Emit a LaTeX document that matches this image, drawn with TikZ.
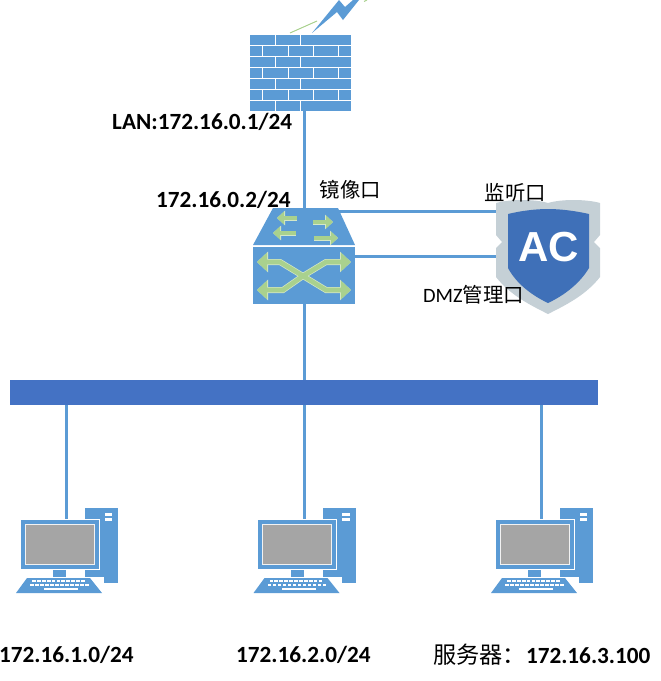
\documentclass[tikz,border=0pt]{standalone}
\usepackage{fontspec}
\setmainfont{Carlito}
\newfontfamily\cjk{Noto Sans CJK SC}
\newfontfamily\acfont{Liberation Sans}
\usetikzlibrary{arrows.meta}
\definecolor{netblue}{HTML}{5B9BD5}
\definecolor{busblue}{HTML}{4472C4}
\definecolor{arrgreen}{HTML}{A9D18E}
\definecolor{shieldgray}{HTML}{C5D0D6}
\definecolor{shieldblue}{HTML}{3F70B8}
\definecolor{screengray}{HTML}{A5A5A5}
\tikzset{
  link/.style={netblue,line width=3pt},
  addr/.style={anchor=west,inner sep=0pt,font=\fontsize{23.2}{26}\selectfont\bfseries},
  zhlab/.style={anchor=west,inner sep=0pt,font=\fontsize{20.4}{24}\selectfont},
  hole/.style={inner sep=0pt,outer sep=0pt,anchor=north west},
  halo/.style={white!50!arrgreen,line width=6pt,-{Triangle[length=11pt,width=20pt]}},
  swarrow/.style={arrgreen,line width=4.6pt,-{Triangle[length=10pt,width=18pt]}},
  smallhalo/.style={white!50!arrgreen,line width=5pt,-{Triangle[length=8pt,width=14pt]}},
  smallarrow/.style={arrgreen,line width=4pt,-{Triangle[length=7pt,width=12.5pt]}},
}
\begin{document}
\begin{tikzpicture}[x=1pt,y=-1pt]
\useasboundingbox (0,0) rectangle (661,681);
% firewall
\node[hole,minimum width=101pt,minimum height=77pt] (wall) at (250,34) {};
\foreach \r in {0,2,4,6}{
  \foreach \x in {250,275.5,301,326}
    \fill[netblue] (\x,34.5+\r*11) rectangle (\x+24.5,44.5+\r*11);
}
\foreach \r in {1,3,5}{
  \foreach \x/\w in {250/12,263/24.5,288.5/24.5,313.5/24.5,339/12}
    \fill[netblue] (\x,34.5+\r*11) rectangle (\x+\w,44.5+\r*11);
}
\fill[netblue] (312,33) -- (339,0) -- (345,7) -- (353,0) -- (359,0) -- (343,20) -- (337,12) -- cycle;
\draw[arrgreen,line width=1pt] (290,33) -- (317,21);
\draw[arrgreen,line width=1pt] (364,1.5) -- (367,0);
% switch
\fill[netblue] (273,208) -- (338,208) -- (355,245) -- (253,245) -- cycle;
\node[hole,fill=netblue,minimum width=102pt,minimum height=57pt] (swbox) at (253,247) {};
\coordinate (swtop) at (304,208);
\coordinate (mirror) at (304,211);
\coordinate (dmz) at (355,256);
\foreach \s in {smallhalo,smallarrow}{
  \foreach \a/\ya/\b in {297/218/277,296/233/273,313/222/333,314/238/338}
    \draw[\s] (\a,\ya) -- (\b,\ya);
}
\foreach \s in {halo,swarrow}{
  \draw[\s] (303,276) -- (280,262) -- (257,262);
  \draw[\s] (303,276) -- (283,290) -- (257,290);
  \draw[\s] (303,276) -- (326,262) -- (351,262);
  \draw[\s] (303,276) -- (326,290) -- (351,290);
}
% AC shield
\node[hole,minimum width=104pt,minimum height=116pt] (shield) at (496,198) {};
\fill[shieldgray] (548,203) .. controls (535,199) and (510,199) .. (496,203) -- (496,235) -- (502,242) -- (496,248) -- (496,277)
  .. controls (510,295) and (530,305) .. (548,314) .. controls (566,305) and (586,295) .. (600,277)
  -- (600,248) -- (594,242) -- (600,235) -- (600,203) .. controls (586,199) and (561,199) .. cycle;
\fill[shieldblue] (508,214) .. controls (520,211) and (535,209) .. (548,209) .. controls (561,209) and (576,211) .. (589,214)
  -- (589,268) .. controls (580,283) and (565,295) .. (548,303) .. controls (531,295) and (516,283) .. (508,268) -- cycle;
\node[white,inner sep=0pt,font=\fontsize{42}{42}\selectfont\bfseries\acfont] (aclab) at (549,247) {AC};
% bus
\node[hole,fill=busblue,minimum width=588pt,minimum height=25pt] (bus) at (10,380) {};
% hosts
\foreach \n/\dx in {1/0,2/237.5,3/475}{
  \begin{scope}[xshift=\dx pt]
    \coordinate (pc\n) at (66.5,519);
    \fill[netblue] (85,508) rectangle (118,583);
    \fill[white] (104.5,513) rectangle (112,516);
    \fill[white] (104.5,518) rectangle (112,521);
    \fill[netblue,draw=white,line width=1pt] (20,519) rectangle (99,569);
    \fill[screengray,draw=white!85!screengray,line width=1pt] (25,524) rectangle (94,564);
    \fill[netblue] (53,570) rectangle (66,577);
    \fill[white] (85,577) rectangle (104,595);
    \fill[netblue] (27,578) -- (90,578) -- (102,593) -- (16,593) -- cycle;
    \foreach \i in {0,...,10}
      \fill[white] (32+\i*4.9,580) rectangle (35.8+\i*4.9,582.2);
    \foreach \i in {0,...,11}
      \fill[white] (30+\i*5,583.8) rectangle (33.8+\i*5,586);
    \fill[white] (44,587.5) rectangle (78,590);
  \end{scope}
}
% links
\draw[link] (wall.south -| swtop) -- (swtop);
\draw[link] (swbox.south) -- (swbox.south |- bus.north);
\draw[link] (mirror) -- (mirror -| shield.west);
\draw[link] (dmz) -- (dmz -| shield.west);
\foreach \n in {1,2,3}
  \draw[link] (pc\n |- bus.south) -- (pc\n);
% labels
\node[addr] (lanlab) at (112,122) {LAN:172.16.0.1/24};
\node[addr] (swlab) at (156,200) {172.16.0.2/24};
\node[zhlab] (mirrorlab) at (319.5,190) {\cjk 镜像口};
\node[zhlab] (listenlab) at (484.5,193) {\cjk 监听口};
\node[zhlab] (dmzlab) at (423,295) {DMZ{\cjk 管理口}};
\node[addr] (net1) at (-1,655) {172.16.1.0/24};
\node[addr] (net2) at (236,655) {172.16.2.0/24};
\node[addr] (srv) at (433,655) {{\cjk\mdseries 服务器：}172.16.3.100};
\end{tikzpicture}
\end{document}
